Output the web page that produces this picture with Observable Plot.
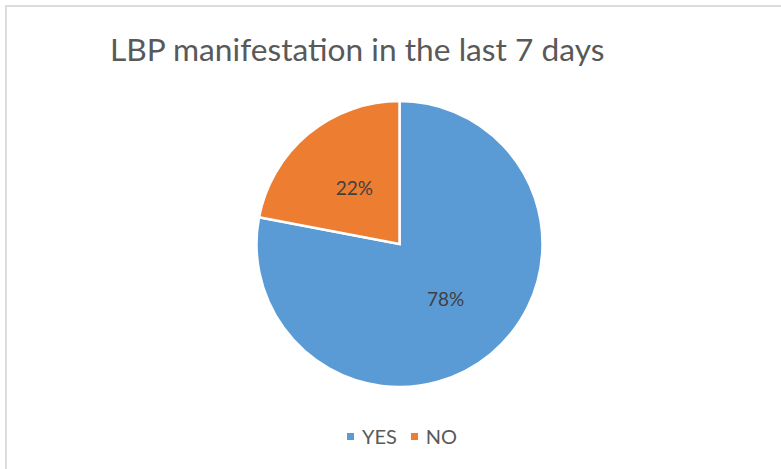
<!DOCTYPE html>
<html>
<head>
<meta charset="utf-8">
<script src="https://cdn.jsdelivr.net/npm/d3@7"></script>
<script src="https://cdn.jsdelivr.net/npm/@observablehq/plot@0.6"></script>
<style>
  html, body { margin: 0; padding: 0; background: #fff; }
  #wrap { position: relative; width: 781px; height: 469px; overflow: hidden; background: #fff; }
  #frame { position: absolute; left: 5px; top: 5px; right: -10px; bottom: -10px;
           border-top: 2px solid #dcdcdc; border-left: 2px solid #dcdcdc; }
  #title { position: absolute; left: 110px; top: 29px; font-family: Lato, "Open Sans", sans-serif;
           font-size: 31.7px; line-height: 40px; color: #595959; white-space: nowrap; }
  #chart { position: absolute; left: 0; top: 0; }
  #legend { position: absolute; left: 0; width: 804px; top: 424px; display: flex; justify-content: center;
            font-family: Lato, "Open Sans", sans-serif; font-size: 20px; color: #595959; }
  .item { display: flex; align-items: center; margin: 0 7px; }
  .sw { width: 7px; height: 7px; margin-right: 8px; }
</style>
</head>
<body>
<div id="wrap">
  <div id="frame"></div>
  <div id="chart"></div>
  <div id="title"></div>
  <div id="legend"></div>
</div>
<script>
const titleText = "LBP manifestation in the last 7 days";
const categories = ["YES", "NO"];
const values = [78, 22];
const labels = ["78%", "22%"];
const colors = ["#5B9BD5", "#ED7D31"];

const data = categories.map((c, i) => ({category: c, value: values[i], label: labels[i], color: colors[i]}));
const pieArcs = d3.pie().sort(null).value(d => d.value)(data);
const unitArc = d3.arc().innerRadius(0).outerRadius(1);
const labelData = pieArcs.map(a => {
  const [cx, cy] = unitArc.centroid(a);
  return {x: cx, y: -cy, label: a.data.label};
});

function pieMark(index, scales) {
  const x0 = scales.x(0), y0 = scales.y(0);
  const r = scales.x(1) - x0;
  const arc = d3.arc().innerRadius(0).outerRadius(r);
  const g = d3.create("svg:g").attr("transform", `translate(${x0},${y0})`);
  g.selectAll("path").data(pieArcs).join("path")
    .attr("d", arc)
    .attr("fill", d => d.data.color)
    .attr("stroke", "white")
    .attr("stroke-width", 2.5)
    .attr("stroke-linejoin", "miter");
  return g.node();
}

const plot = Plot.plot({
  width: 781,
  height: 469,
  margin: 0,
  style: {background: "transparent", fontFamily: "Lato, 'Open Sans', sans-serif"},
  x: {domain: [-1, 1], range: [256.5, 542.5], axis: null},
  y: {domain: [-1, 1], range: [387.5, 100.5], axis: null},
  marks: [
    pieMark,
    Plot.text(labelData, {x: "x", y: "y", text: "label", fill: "#404040", fontSize: 19})
  ]
});
document.getElementById("chart").appendChild(plot);
document.getElementById("title").textContent = titleText;

const legend = document.getElementById("legend");
data.forEach(d => {
  const item = document.createElement("div");
  item.className = "item";
  const sw = document.createElement("div");
  sw.className = "sw";
  sw.style.background = d.color;
  const t = document.createElement("span");
  t.textContent = d.category;
  item.appendChild(sw);
  item.appendChild(t);
  legend.appendChild(item);
});
</script>
</body>
</html>
